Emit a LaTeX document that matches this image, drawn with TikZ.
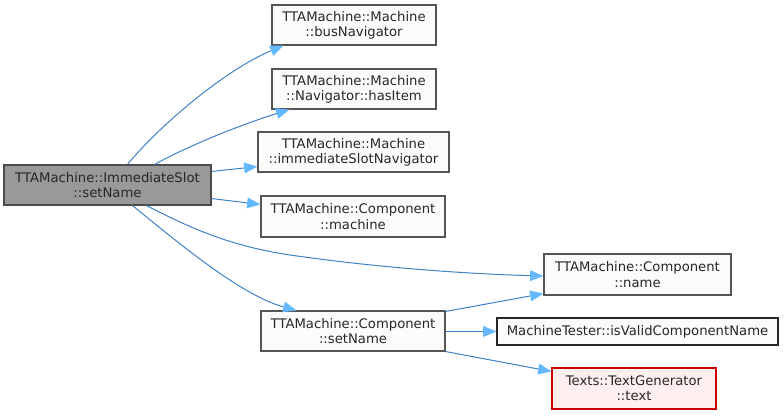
\documentclass[tikz,border=0pt]{standalone}
\usepackage{fontspec}
\setmainfont{DejaVu Sans}
\usetikzlibrary{arrows.meta,calc}
\definecolor{edgec}{HTML}{3F82C8}
\definecolor{tipc}{HTML}{63B8FF}
\definecolor{mainfill}{HTML}{999999}
\definecolor{nodefill}{HTML}{FBFCFA}
\definecolor{nodeline}{HTML}{555555}
\definecolor{redfill}{HTML}{FFF0F0}
\definecolor{redline}{HTML}{CC0000}
\begin{document}
\begin{tikzpicture}[x=0.75pt,y=-0.75pt,
  nbox/.style={draw=nodeline,fill=nodefill,line width=0.8pt,inner sep=0pt,align=center,
    text=black!85,font=\fontsize{9.9}{11.4}\selectfont},
  mainbox/.style={nbox,fill=mainfill,draw=black!70},
  redbox/.style={nbox,fill=redfill,draw=redline},
  sz/.style 2 args={minimum width=#1*0.75pt,minimum height=#2*0.75pt},
  edge/.style={draw=edgec,line width=0.75pt,-{Triangle[length=10pt,width=8pt,fill=tipc,color=tipc]}}]
\useasboundingbox (0,0) rectangle (784,415);
\fill[white] (0,0) rectangle (784,415);
\node[mainbox,sz={207}{40}] (main) at (107.5,185) {TTAMachine::ImmediateSlot\\::setName};
\node[nbox,sz={164}{40}] (bus) at (354,25) {TTAMachine::Machine\\::busNavigator};
\node[nbox,sz={164}{40}] (has) at (354,89) {TTAMachine::Machine\\::Navigator::hasItem};
\node[nbox,sz={191}{40}] (isn) at (353.5,152) {TTAMachine::Machine\\::immediateSlotNavigator};
\node[nbox,sz={184}{41}] (mach) at (353,216.5) {TTAMachine::Component\\::machine};
\node[nbox,sz={187}{41}] (name) at (637.5,274.5) {TTAMachine::Component\\::name};
\node[nbox,sz={184}{40}] (cset) at (353,331) {TTAMachine::Component\\::setName};
\node[nbox,draw=black!85,sz={281}{27}] (valid) at (637.5,331.5) {MachineTester::isValidComponentName};
\node[redbox,sz={164}{41}] (text) at (634,388.5) {Texts::TextGenerator\\::text};
% edges
\draw[edge] ($(main.north west)+(124,0)$) .. controls (160,125) and (225,70) .. ($(bus.south west)+(12,0)$);
\draw[edge] ($(main.north west)+(151,0)$) .. controls (190,145) and (240,125) .. ($(has.south west)+(18,0)$);
\draw[edge] ($(main.north east)+(0,7)$) -- ($(isn.south west)+(0,-6)$);
\draw[edge] ($(main.south east)+(0,-7)$) -- ($(mach.north west)+(0,9)$);
\draw[edge] ($(main.south west)+(143,0)$) .. controls (190,228) and (230,246) .. (290,255)
  .. controls (380,268) and (470,274) .. ($(name.west)+(0,1.5)$);
\draw[edge] ($(main.south west)+(129,0)$) .. controls (175,240) and (240,295) .. ($(cset.north west)+(36,0)$);
\draw[edge] ($(cset.north east)+(0,1)$) -- ($(name.south west)+(0,-2)$);
\draw[edge] ($(cset.east)+(0,0.5)$) -- (valid.west);
\draw[edge] (cset.south east) -- ($(text.north west)+(0,4)$);
\end{tikzpicture}
\end{document}
